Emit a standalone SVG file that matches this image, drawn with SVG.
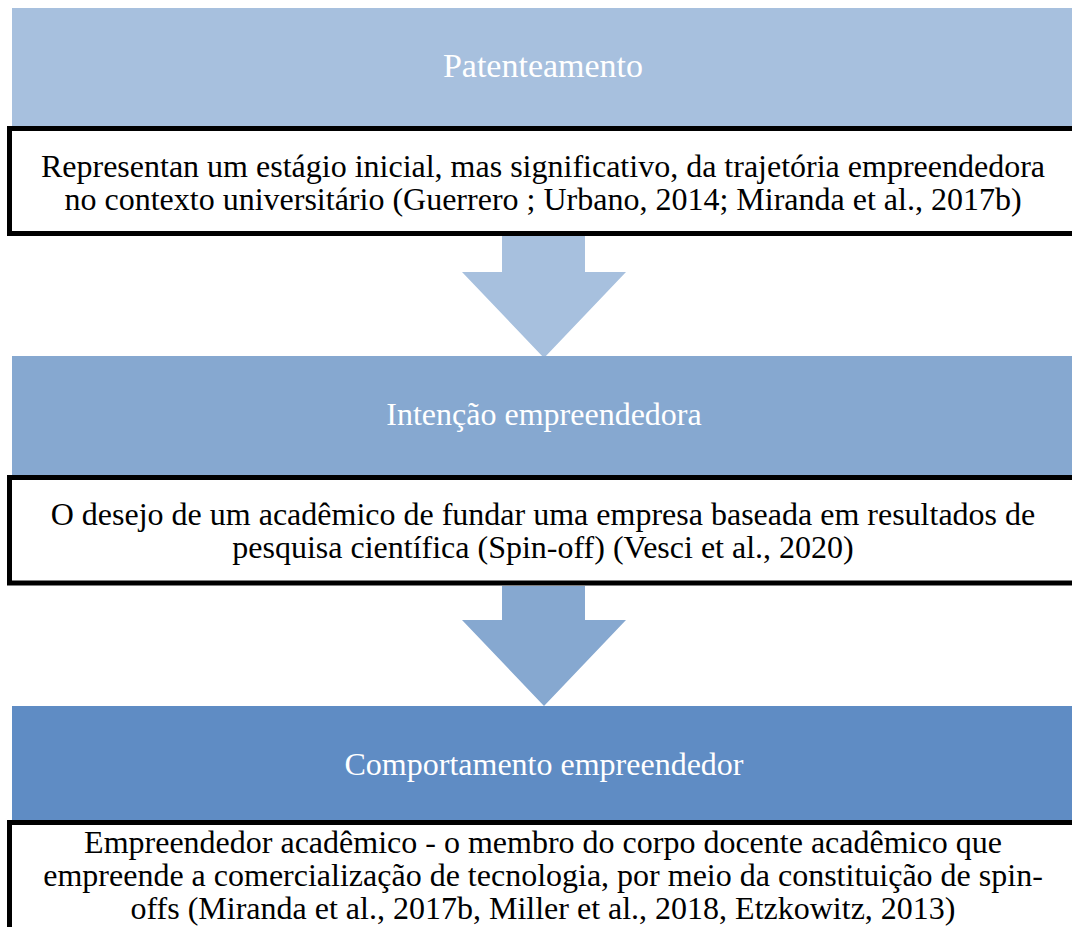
<svg xmlns="http://www.w3.org/2000/svg" width="1072" height="927" viewBox="0 0 1072 927">
<style>
.hdr{font-family:"Liberation Serif","Times New Roman",serif;font-size:32px;fill:#ffffff;text-anchor:middle}
.txt{font-family:"Liberation Serif","Times New Roman",serif;font-size:32px;fill:#000000;text-anchor:middle}
.box{fill:#ffffff;stroke:#000000;stroke-width:5}
</style>
<rect width="1072" height="927" fill="#ffffff"/>
<g id="connectors">
<polygon points="502,236 585,236 585,272 626,272 544,358 462,272 502,272" fill="#A7C0DE"/>
<polygon points="502,586 585,586 585,620 626,620 544,706 462,620 502,620" fill="#86A8D0"/>
</g>
<g id="node-patenteamento">
<rect x="12" y="8" width="1070" height="120" fill="#A7C0DE"/>
<text class="hdr" x="543" y="77" style="font-size:34px">Patenteamento</text>
</g>
<g id="node-desc1">
<rect class="box" x="9.5" y="128.5" width="1070" height="105"/>
<text class="txt" x="543" y="177">Representan um estágio inicial, mas significativo, da trajetória empreendedora</text>
<text class="txt" x="543" y="210">no contexto universitário (Guerrero ; Urbano, 2014; Miranda et al., 2017b)</text>
</g>
<g id="node-intencao">
<rect x="12" y="356" width="1070" height="122" fill="#86A8D0"/>
<text class="hdr" x="544" y="425">Intenção empreendedora</text>
</g>
<g id="node-desc2">
<rect class="box" x="9.5" y="477.5" width="1070" height="105.5"/>
<text class="txt" x="543" y="525">O desejo de um acadêmico de fundar uma empresa baseada em resultados de</text>
<text class="txt" x="543" y="558">pesquisa científica (Spin-off) (Vesci et al., 2020)</text>
</g>
<g id="node-comportamento">
<rect x="12" y="706" width="1070" height="117" fill="#5F8CC4"/>
<text class="hdr" x="544" y="775">Comportamento empreendedor</text>
</g>
<g id="node-desc3">
<rect class="box" x="9.5" y="822.5" width="1070" height="120"/>
<text class="txt" x="543" y="853">Empreendedor acadêmico - o membro do corpo docente acadêmico que</text>
<text class="txt" x="543" y="886">empreende a comercialização de tecnologia, por meio da constituição de spin-</text>
<text class="txt" x="543" y="919">offs (Miranda et al., 2017b, Miller et al., 2018, Etzkowitz, 2013)</text>
</g>
</svg>
